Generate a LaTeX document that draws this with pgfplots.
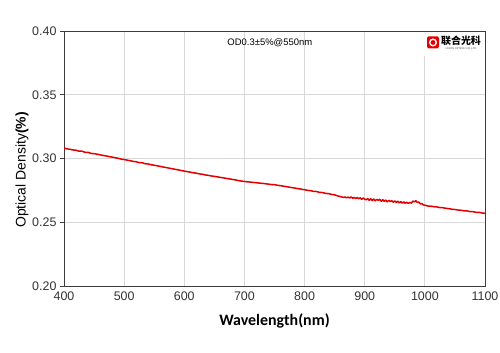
\documentclass[border=0pt]{standalone}
\usepackage{fontspec}
\setmainfont{Liberation Sans}
\newfontfamily\carlito{Carlito}
\newfontfamily\cjk{Noto Sans CJK SC}
\usepackage{pgfplots}
\usetikzlibrary{calc}
\pgfplotsset{compat=1.18}
\definecolor{cred}{RGB}{228,0,0}
\definecolor{gridgray}{RGB}{217,217,217}
\definecolor{axgray}{RGB}{60,60,60}
\pgfplotstableread{
x y
400 .3082
405 .3076
410 .3072
415 .3067
420 .3065
425 .3057
430 .3057
435 .3049
440 .3048
445 .3040
450 .3038
455 .3034
460 .3029
465 .3024
470 .3020
475 .3015
480 .3011
485 .3006
490 .3002
495 .2995
500 .2992
505 .2987
510 .2983
515 .2977
520 .2975
525 .2967
530 .2967
535 .2959
540 .2957
545 .2951
550 .2947
555 .2943
560 .2938
565 .2933
570 .2929
575 .2924
580 .2920
585 .2915
590 .2911
595 .2906
600 .2901
605 .2897
610 .2893
615 .2888
620 .2885
625 .2879
630 .2877
635 .2871
640 .2868
645 .2863
650 .2860
655 .2856
660 .2852
665 .2848
670 .2844
675 .2840
680 .2836
685 .2832
690 .2827
695 .2823
700 .2820
705 .2817
710 .2815
715 .2812
720 .2810
725 .2807
730 .2805
735 .2802
740 .2799
745 .2796
750 .2795
755 .2790
760 .2787
765 .2783
770 .2779
775 .2775
780 .2771
785 .2767
790 .2763
795 .2759
800 .2755
805 .2750
810 .2748
815 .2742
820 .2741
825 .2734
830 .2733
835 .2726
840 .2725
845 .2718
850 .2715
855 .2707
860 .2700
865 .2695
867.5 .2698
870 .2692
872.5 .2697
875 .2690
877.5 .2699
880 .2688
882.5 .2695
885 .2686
887.5 .2694
890 .2684
892.5 .2692
895 .2680
897.5 .2690
900 .2681
902.5 .2676
905 .2686
907.5 .2672
910 .2684
912.5 .2670
915 .2682
917.5 .2668
920 .2679
922.5 .2672
925 .2680
927.5 .2665
930 .2677
932.5 .2664
935 .2674
937.5 .2660
940 .2672
942.5 .2662
945 .2670
947.5 .2657
950 .2667
952.5 .2655
955 .2665
957.5 .2652
960 .2662
962.5 .2650
965 .2660
967.5 .2649
970 .2657
972.5 .2648
975 .2655
977.5 .2650
980 .2666
982.5 .2660
985 .2669
987.5 .2655
990 .2658
992.5 .2644
995 .2646
997.5 .2636
1000 .2634
1005 .2627
1010 .2626
1015 .2622
1020 .2620
1025 .2615
1030 .2614
1035 .2609
1040 .2607
1045 .2602
1050 .2600
1055 .2596
1060 .2594
1065 .2590
1070 .2589
1075 .2584
1080 .2583
1085 .2578
1090 .2578
1095 .2573
1100 .2570
}\od
\begin{document}
\begin{tikzpicture}
\path[use as bounding box] (-64bp,-67bp) rectangle (436bp,286bp);
\begin{axis}[
  scale only axis, width=421bp, height=255bp, at={(0,0)}, anchor=south west,
  xmin=400, xmax=1100, ymin=0.20, ymax=0.40,
  xtick={400,500,600,700,800,900,1000,1100},
  ytick={0.20,0.25,0.30,0.35,0.40},
  xticklabel style={yshift=2bp, /pgf/number format/1000 sep={}},
  yticklabel style={/pgf/number format/fixed, /pgf/number format/fixed zerofill, /pgf/number format/precision=2},
  /pgf/number format/assume math mode=true,
  ticklabel style={font=\fontsize{12.5}{14}\selectfont, text=black!80},
  grid=major, major grid style={gridgray, line width=0.9bp},
  axis line style={axgray, line width=0.9bp},
  tick align=outside, major tick length=4bp,
  xtick style={draw=none}, ytick pos=left,
  ytick style={axgray, line width=0.9bp},
  xlabel={\carlito\bfseries Wavelength(nm)},
  ylabel={Optical Density\textbf{(\%)}},
  xlabel style={font=\fontsize{16}{18}\selectfont, at={(axis description cs:0.5,-0.137)}, anchor=center},
  ylabel style={font=\fontsize{14}{16}\selectfont, at={(axis description cs:-0.0998,0.455)}, anchor=center},
  clip=true,
]
\addplot[cred, line width=1.5bp, line join=round] table[x=x,y=y]{\od};
\fill[white] (rel axis cs:0.855,0.902) rectangle (rel axis cs:0.9976,0.996);
\node[font=\fontsize{9.5}{11}\selectfont, text=black] at (rel axis cs:0.489,0.953) {OD0.3±5\%@550nm};
\fill[cred, rounded corners=1.5bp] ($(rel axis cs:0.8765,0.955)+(-6bp,-6bp)$) rectangle ($(rel axis cs:0.8765,0.955)+(6bp,6bp)$);
\draw[white, line width=1.4bp] (rel axis cs:0.8765,0.955) circle (3.3bp);
\node[font=\cjk\bfseries\fontsize{10}{11}\selectfont, inner sep=0] at (rel axis cs:0.9430,0.962) {联合光科};
\node[font=\fontsize{2.6}{3}\selectfont, inner sep=0, text=black!70] at (rel axis cs:0.9430,0.931) {UNION OPTECH CO.,LTD};
\end{axis}
\end{tikzpicture}
\end{document}
